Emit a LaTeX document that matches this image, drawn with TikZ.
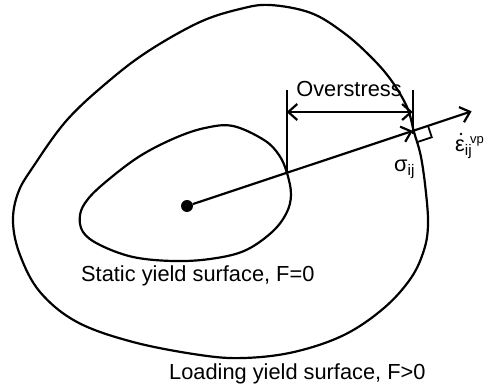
\documentclass[tikz,border=0pt]{standalone}
\usepackage{fontspec}
\setmainfont{Liberation Sans}
\usetikzlibrary{arrows.meta,calc}
\begin{document}
\begin{tikzpicture}[x=1pt,y=-1pt,
  curve/.style={line width=2.2pt, line join=round},
  conn/.style={line width=2.2pt},
  barb/.style={-{Straight Barb[length=9pt,width=16pt]}},
  dbarb/.style={{Straight Barb[length=9pt,width=16pt]}-{Straight Barb[length=9pt,width=16pt]}},
  lbl/.style={font=\fontsize{21.8}{26}\selectfont, inner sep=0pt},
  dotnode/.style={circle, fill, inner sep=0pt, minimum size=12pt},
  accdot/.style={circle, fill, inner sep=0pt, minimum size=2.8pt}]
\useasboundingbox (0,0) rectangle (488,390);
% outer (loading) surface
\draw[curve] plot[smooth cycle, tension=0.6] coordinates {
 (270,5) (311,13) (344,33) (371,57) (391,80) (407,107) (414,132) (421,157)
 (426,193) (428,225) (424,250) (411,278) (384,308) (344,335) (294,352) (244,358)
 (200,355) (133,342) (77,322) (40,292) (20,255) (13,222) (18,193) (33,167)
 (67,120) (110,80) (150,50) (200,22) (240,9)};
% inner (static) surface
\draw[curve] plot[smooth cycle, tension=0.6] coordinates {
 (233,126) (264,140) (279,155) (287,173) (291,195) (286,214) (271,233) (244,251)
 (210,259) (173,261) (133,257) (100,245) (83,232) (80,215) (88,199)
 (108,180) (140,156) (175,138) (205,128)};
\node[dotnode] (o) at (187,206) {};
\coordinate (p) at (286.6,172.9);
\coordinate (s) at (412.8,130.9);
\coordinate (e) at (471.6,111.3);
\coordinate (top) at (0,90);
\coordinate (dim) at (0,112);
\draw[conn,barb] (o) -- (s);
\draw[conn,barb] (s) -- (e);
\draw[conn] (p) -- (p |- top);
\draw[conn] ($(s)+(0,3)$) -- (s |- top);
\draw[conn,dbarb] (p |- dim) -- (s |- dim);
% normality mark
\coordinate (q1) at ($(s)!16pt!(e)$);
\coordinate (q2) at ($(q1)!12pt!90:(s)$);
\coordinate (q3) at ($(s)!12pt!-90:(e)$);
\draw[line width=1.8pt] (q1) -- (q2) -- (q3);
\node[lbl, anchor=base] (ov) at (349,97) {Overstress};
\node[lbl, anchor=base west] (sig) at (394,172) {σ\textsubscript{ij}};
\node[lbl, anchor=base west] (eps) at (455,152) {ε\textsubscript{ij}\kern-2pt\raisebox{8pt}{\fontsize{13}{15}\selectfont vp}};
\node[accdot] (epsdot) at (461,134) {};
\node[lbl, anchor=base west] (st) at (81,282) {Static yield surface, F=0};
\node[lbl, anchor=base west] (ld) at (169,380) {Loading yield surface, F>0};
\end{tikzpicture}
\end{document}
